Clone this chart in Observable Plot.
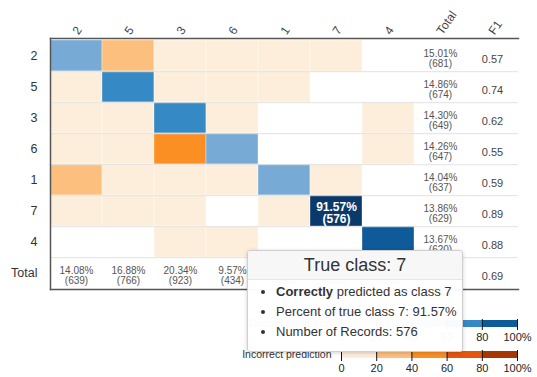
<!DOCTYPE html>
<html><head><meta charset="utf-8">
<script src="https://cdn.jsdelivr.net/npm/d3@7"></script>
<script src="https://cdn.jsdelivr.net/npm/@observablehq/plot@0.6"></script>
<style>
body{margin:0;background:#fff;font-family:"Helvetica Neue",Helvetica,Arial,"Liberation Sans",sans-serif;}
#wrap{position:relative;width:537px;height:377px;overflow:hidden;}
#wrap svg{position:absolute;left:0;}
#tip{position:absolute;left:247px;top:250px;width:214px;height:100px;border:1px solid #cfcfcf;border-radius:3px;background:rgba(255,255,255,0.97);box-shadow:0 1px 4px rgba(0,0,0,0.18);color:#333;z-index:5;}
#tip .hd{height:28px;line-height:29px;border-bottom:1px solid #e6e6e6;background:#f7f7f7;text-align:center;font-size:18px;border-radius:3px 3px 0 0;}
#tip ul{margin:0;padding:2px 0 0 28px;font-size:13px;line-height:20px;}
</style></head>
<body><div id="wrap"></div>
<script>
// classes in display order (rows = true class, columns = predicted class)
const classes = ["2","5","3","6","1","7","4"];
const counts = [
  [376,140, 55, 45, 50, 15,  0],
  [ 40,533, 20, 25, 56,  0,  0],
  [ 35, 25,487, 27,  0,  0, 75],
  [ 22, 18,290,297,  0,  0, 20],
  [150, 38, 25, 15,335, 74,  0],
  [ 16, 12, 11,  0, 14,576,  0],
  [  0,  0, 35, 25,  0,  0,560]
];
const f1Scores = [0.57,0.74,0.62,0.55,0.59,0.89,0.88];
const f1Overall = 0.69;
const extraColumns = ["Total","F1"];
const totalLabel = "Total";
const binEdges = [20,40,60,80];
const correctColors = ["#eff3ff","#bdd7e7","#77aad5","#3589c4","#0f5a99"];
const incorrectColors = ["#fdeedc","#fcbf7e","#fc8f24","#e6550d","#a63603"];
const hoverColor = "#0a3a6b";
const legendTicks = [0,20,40,60,80,100];
const hoverClass = "7";

const font = '"Helvetica Neue",Helvetica,Arial,"Liberation Sans",sans-serif';
const blue = d3.scaleThreshold(binEdges, correctColors);
const orange = d3.scaleThreshold(binEdges, incorrectColors);
const fmt = d3.format(".2f");

const rowTotals = counts.map(r => d3.sum(r));
const colTotals = classes.map((_, j) => d3.sum(counts, r => r[j]));
const grand = d3.sum(rowTotals);

const cells = [];
classes.forEach((t, i) => classes.forEach((p, j) => {
  const n = counts[i][j];
  if (n > 0) {
    const pct = n / rowTotals[i] * 100;
    const hover = i === j && t === hoverClass;
    cells.push({true: t, pred: p, n, pct, hover,
      color: hover ? hoverColor : (i === j ? blue(pct) : orange(pct))});
  }
}));
const rowTot = classes.map((c, i) => ({c, text: fmt(rowTotals[i] / grand * 100) + "%\n(" + rowTotals[i] + ")"}));
const colTot = classes.map((c, j) => ({c, text: fmt(colTotals[j] / grand * 100) + "%\n(" + colTotals[j] + ")"}));
const f1Data = classes.map((c, i) => ({c, text: f1Scores[i].toFixed(2)})).concat([{c: totalLabel, text: f1Overall.toFixed(2)}]);

const H = 295, MT = 38, MB = 6;
const rowH = (H - MT - MB) / (classes.length + 1);

const main = Plot.plot({
  width: 537, height: H, marginLeft: 50, marginRight: 19, marginTop: MT, marginBottom: MB,
  x: {type: "band", domain: [...classes, ...extraColumns], padding: 0, axis: null},
  y: {type: "band", domain: [...classes, totalLabel], padding: 0, axis: null},
  style: {fontFamily: font, color: "#333", background: "transparent", overflow: "visible"},
  marks: [
    Plot.cell(cells, {x: "pred", y: "true", fill: "color", stroke: "#ffffff", strokeOpacity: 0.35}),
    Plot.tickY(classes, {y: d => d, dy: rowH / 2, stroke: "#e2e2e2", strokeWidth: 1}),
    Plot.text(cells.filter(d => d.hover), {x: "pred", y: "true", text: d => fmt(d.pct) + "%\n(" + d.n + ")",
      fill: "white", fontWeight: "bold", fontSize: 12, lineHeight: 1.05, dy: 2}),
    Plot.text(rowTot, {x: () => "Total", y: "c", text: "text", fontSize: 10, fill: "#555", lineHeight: 1, dy: 3}),
    Plot.text(colTot, {x: "c", y: () => totalLabel, text: "text", fontSize: 10, fill: "#555", lineHeight: 1, dy: 3}),
    Plot.text(f1Data, {x: () => "F1", y: "c", text: "text", fontSize: 11, fill: "#444", dy: 3}),
    Plot.text([...classes, ...extraColumns], {x: d => d, frameAnchor: "top", dy: -8, dx: -5, rotate: -55,
      textAnchor: "start", fontSize: 12, fill: "#444"}),
    Plot.text([...classes, totalLabel], {y: d => d, frameAnchor: "left", dx: -13, textAnchor: "end", fontSize: 12.5, fill: "#333"}),
    Plot.frame({anchor: "top", stroke: "#555", strokeWidth: 1.5}),
    Plot.frame({anchor: "bottom", stroke: "#555", strokeWidth: 1.5}),
    Plot.frame({anchor: "left", stroke: "#555", strokeWidth: 1.5})
  ]
});
main.style.top = "0px";

function legend(label, colors, top) {
  const bins = colors.map((c, i) => ({x1: legendTicks[i], x2: legendTicks[i + 1], c}));
  const svg = Plot.plot({
    width: 537, height: 34, marginLeft: 341, marginRight: 20, marginTop: 6, marginBottom: 21,
    x: {domain: [0, 100], ticks: legendTicks, tickSize: 0, tickPadding: 6, label: null,
        tickFormat: d => d === 100 ? "100%" : String(d)},
    y: {domain: [label], axis: null, padding: 0},
    style: {fontFamily: font, fontSize: "11px", color: "#222", background: "transparent", overflow: "visible"},
    marks: [
      Plot.barX(bins, {x1: "x1", x2: "x2", y: () => label, fill: "c"}),
      Plot.tickX(legendTicks, {x: d => d, y: () => label, stroke: "#111", insetTop: -1, insetBottom: -3}),
      Plot.text([label], {y: d => d, frameAnchor: "left", dx: -10, textAnchor: "end", fontSize: 10.5, fill: "#333"})
    ]
  });
  svg.style.top = top + "px";
  return svg;
}

const wrap = document.getElementById("wrap");
wrap.appendChild(main);
wrap.appendChild(legend("Correct prediction", correctColors, 314));
wrap.appendChild(legend("Incorrect prediction", incorrectColors, 345));

const hc = cells.find(d => d.hover);
const tip = document.createElement("div");
tip.id = "tip";
tip.innerHTML = `<div class="hd">True class: ${hc.true}</div><ul>
<li><b>Correctly</b> predicted as class ${hc.pred}</li>
<li>Percent of true class ${hc.true}: ${fmt(hc.pct)}%</li>
<li>Number of Records: ${hc.n}</li></ul>`;
wrap.appendChild(tip);
</script>
</body></html>
